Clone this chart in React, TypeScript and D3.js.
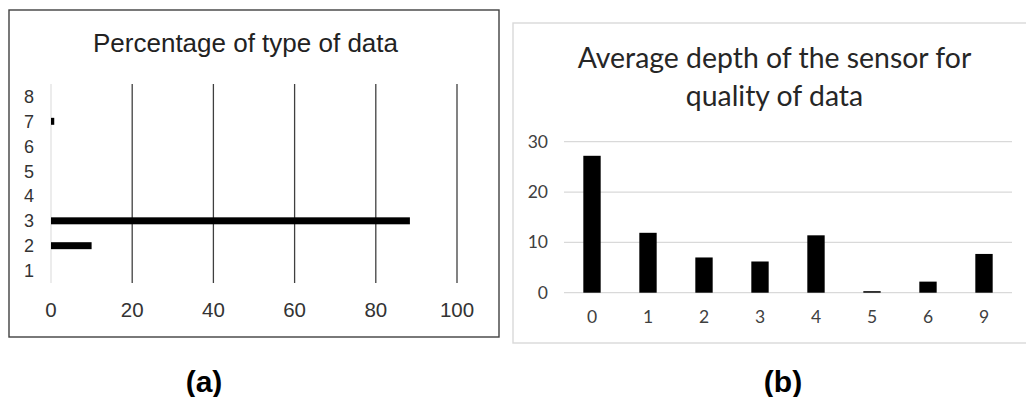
import React from "react";
import * as d3 from "d3";

// Panel (a): Percentage of type of data
const typeCategories = ["1", "2", "3", "4", "5", "6", "7", "8"];
const typeValues = [0, 10, 88.4, 0, 0, 0, 0.8, 0];
const typeTicks = [0, 20, 40, 60, 80, 100];

// Panel (b): Average depth of the sensor for quality of data
const qualityCategories = ["0", "1", "2", "3", "4", "5", "6", "9"];
const depthValues = [27.2, 11.9, 7.0, 6.2, 11.4, 0.3, 2.2, 7.7];
const depthTicks = [0, 10, 20, 30];

const SANS = "'Liberation Sans', Arial, sans-serif";
const HUMAN = "Lato, 'Open Sans', sans-serif";

export default function App() {
  // panel (a)
  const xa = d3.scaleLinear().domain([0, 100]).range([51, 457]);
  const ya = d3.scaleBand().domain(typeCategories).range([283, 84]).padding(0);
  const barThick = ya.bandwidth() * 0.28;

  // panel (b)
  const xb = d3
    .scaleBand()
    .domain(qualityCategories)
    .range([564, 1012])
    .paddingInner(0.69)
    .paddingOuter(0.345);
  const yb = d3.scaleLinear().domain([0, 30]).range([292.7, 141.7]);

  return (
    <svg
      width={1026}
      height={397}
      style={{ position: "absolute", left: 0, top: 0, background: "#fff" }}
    >
      {/* ---------- Panel (a) ---------- */}
      <rect x={9} y={10} width={490} height={327} fill="#fff" stroke="#404040" strokeWidth={1.4} />
      <text x={245.5} y={52} textAnchor="middle" fontFamily={SANS} fontSize={26} fill="#222">
        Percentage of type of data
      </text>
      {typeTicks.map((t) => (
        <line
          key={"ga" + t}
          x1={xa(t)}
          x2={xa(t)}
          y1={84}
          y2={283}
          stroke={t === 0 ? "#d9d9d9" : "#404040"}
          strokeWidth={t === 0 ? 1 : 1.3}
        />
      ))}
      {typeCategories.map((c, i) => (
        <rect
          key={"ba" + c}
          x={xa(0)}
          y={(ya(c) as number) + ya.bandwidth() / 2 - barThick / 2}
          width={xa(typeValues[i]) - xa(0)}
          height={barThick}
          fill="#000"
        />
      ))}
      {typeCategories.map((c) => (
        <text
          key={"ya" + c}
          x={34}
          y={(ya(c) as number) + ya.bandwidth() / 2 + 6.5}
          textAnchor="end"
          fontFamily={SANS}
          fontSize={18}
          fill="#333"
        >
          {c}
        </text>
      ))}
      {typeTicks.map((t) => (
        <text
          key={"xa" + t}
          x={xa(t)}
          y={317}
          textAnchor="middle"
          fontFamily={SANS}
          fontSize={20.5}
          fill="#333"
        >
          {t}
        </text>
      ))}

      {/* ---------- Panel (b) ---------- */}
      <rect x={513} y={23} width={530} height={320} fill="#fff" stroke="#d9d9d9" strokeWidth={1.4} />
      <text x={774.5} y={68} textAnchor="middle" fontFamily={HUMAN} fontSize={28.4} fill="#262626">
        Average depth of the sensor for
      </text>
      <text x={774.5} y={106} textAnchor="middle" fontFamily={HUMAN} fontSize={28.4} fill="#262626">
        quality of data
      </text>
      {depthTicks.map((t) => (
        <line
          key={"gb" + t}
          x1={564}
          x2={1012}
          y1={yb(t)}
          y2={yb(t)}
          stroke="#d9d9d9"
          strokeWidth={1.2}
        />
      ))}
      {depthTicks.map((t) => (
        <text
          key={"yb" + t}
          x={548}
          y={yb(t) + 6}
          textAnchor="end"
          fontFamily={HUMAN}
          fontSize={17.5}
          fill="#404040"
        >
          {t}
        </text>
      ))}
      {qualityCategories.map((c, i) => (
        <rect
          key={"bb" + c}
          x={xb(c) as number}
          y={yb(depthValues[i])}
          width={xb.bandwidth()}
          height={yb(0) - yb(depthValues[i])}
          fill="#000"
        />
      ))}
      {qualityCategories.map((c) => (
        <text
          key={"xb" + c}
          x={(xb(c) as number) + xb.bandwidth() / 2}
          y={323}
          textAnchor="middle"
          fontFamily={HUMAN}
          fontSize={17.5}
          fill="#404040"
        >
          {c}
        </text>
      ))}

      {/* panel labels */}
      <text x={204} y={392} textAnchor="middle" fontFamily={SANS} fontWeight="bold" fontSize={30} fill="#000">
        (a)
      </text>
      <text x={783} y={392} textAnchor="middle" fontFamily={SANS} fontWeight="bold" fontSize={30} fill="#000">
        (b)
      </text>
    </svg>
  );
}
